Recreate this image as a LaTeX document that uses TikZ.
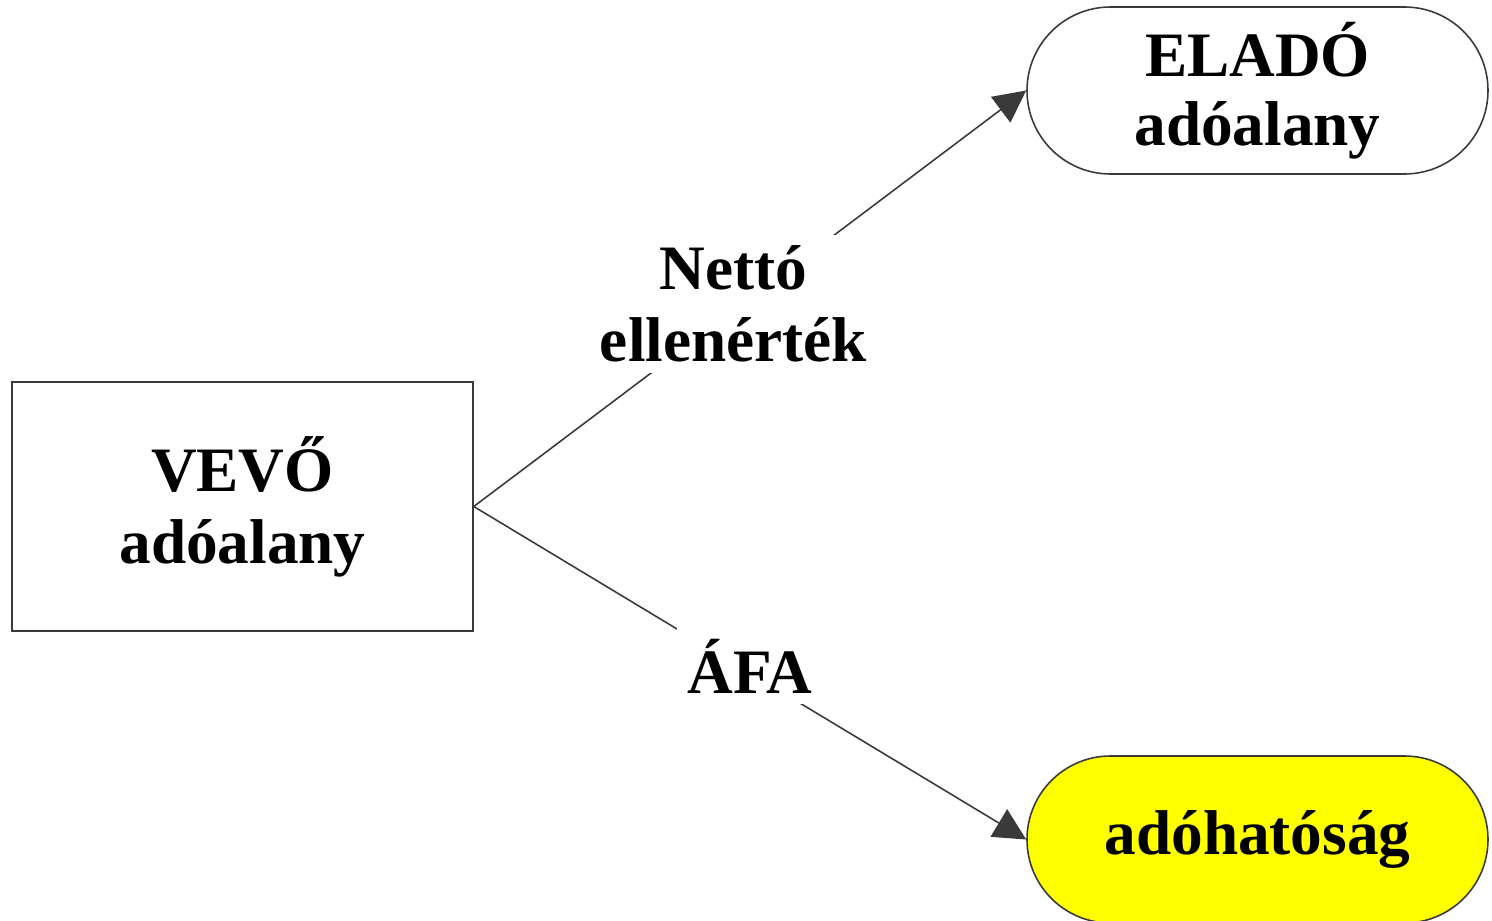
\documentclass[tikz,border=0pt]{standalone}
\usepackage{fontspec}
\setmainfont{Liberation Serif}
\usetikzlibrary{shapes.misc,arrows.meta}
\definecolor{edgegray}{HTML}{3A3A3A}
\definecolor{taxyellow}{HTML}{FFFF00}
\tikzstyle{party}=[draw=edgegray,line width=0.45pt,align=center,font=\bfseries\fontsize{18}{20.5}\selectfont]
\tikzstyle{buyer}=[party,rectangle,minimum width=4.61cm,minimum height=2.49cm]
\tikzstyle{pill}=[party,rounded rectangle,minimum width=4.61cm,minimum height=1.67cm,inner sep=0pt]
\tikzstyle{flow}=[draw=edgegray,line width=0.45pt,-{Triangle[length=3.2mm,width=3.2mm]}]
\tikzstyle{flow label}=[fill=white,align=center,inner sep=3pt,yshift=0.07cm,font=\bfseries\fontsize{18}{20.5}\selectfont]

\begin{document}
\begin{tikzpicture}
    \useasboundingbox (0,0) rectangle (14.92,-9.21);
    \node[buyer] (vevo) at (2.425,-5.065) {VEVŐ\\adóalany};
    \node[pill, font=\bfseries\fontsize{18}{19.5}\selectfont] (elado) at (12.575,-0.905) {ELADÓ\\adóalany};
    \node[pill, fill=taxyellow] (hatosag) at (12.575,-8.395) {adóhatóság};
    \foreach \dest/\where/\txt in {elado/0.47/{Nettó\\ellenérték}, hatosag/0.5/{ÁFA}}
        \path[flow] (vevo.east) -- node[flow label, pos=\where] {\txt} (\dest.west);
\end{tikzpicture}
\end{document}
